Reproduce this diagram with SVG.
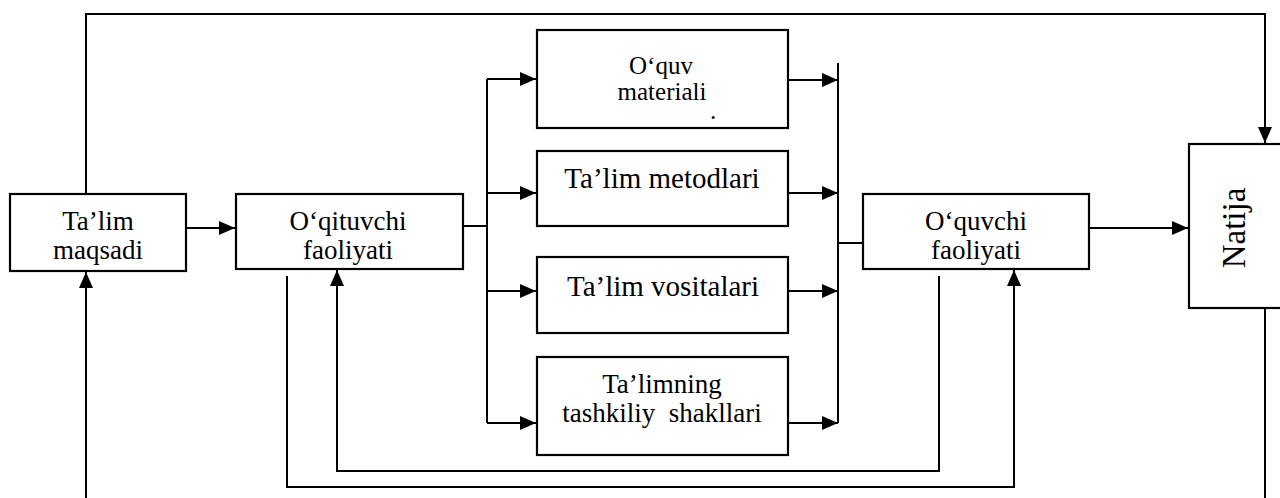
<svg xmlns="http://www.w3.org/2000/svg" width="1280" height="498" viewBox="0 0 1280 498">
<style>
.box{fill:#fff;stroke:#000;stroke-width:2.2}
.ln{fill:none;stroke:#000;stroke-width:2}
.t27{font-family:"Liberation Serif","Times New Roman",serif;font-size:27px;fill:#000;text-anchor:middle}
.t25{font-family:"Liberation Serif","Times New Roman",serif;font-size:25px;fill:#000;text-anchor:middle}
.t29{font-family:"Liberation Serif","Times New Roman",serif;font-size:29px;fill:#000;text-anchor:middle}
.t33{font-family:"Liberation Serif","Times New Roman",serif;font-size:33px;fill:#000;text-anchor:middle}
</style>
<defs>
<marker id="ah" markerUnits="userSpaceOnUse" markerWidth="16" markerHeight="14" refX="16" refY="7" orient="auto">
<path d="M0,0 L16,7 L0,14 z" fill="#000"/>
</marker>
<clipPath id="c1"><rect x="10" y="194" width="176" height="77"/></clipPath>
<clipPath id="c2"><rect x="236" y="194" width="227" height="75"/></clipPath>
<clipPath id="c3"><rect x="863" y="194" width="226" height="75"/></clipPath>
</defs>
<rect width="1280" height="498" fill="#fff"/>

<g id="connectors">
<path class="ln" d="M86,194 V14 H1265 V143" marker-end="url(#ah)"/>
<path class="ln" d="M86,498 V272" marker-end="url(#ah)"/>
<path class="ln" d="M1265,308 V498"/>
<path class="ln" d="M186,228 H235" marker-end="url(#ah)"/>
<path class="ln" d="M463,226 H487"/>
<path class="ln" d="M487,79 V423"/>
<path class="ln" d="M487,79 H536" marker-end="url(#ah)"/>
<path class="ln" d="M487,193 H536" marker-end="url(#ah)"/>
<path class="ln" d="M487,291 H536" marker-end="url(#ah)"/>
<path class="ln" d="M487,423 H536" marker-end="url(#ah)"/>
<path class="ln" d="M838,63 V423"/>
<path class="ln" d="M788,80 H838" marker-end="url(#ah)"/>
<path class="ln" d="M788,193 H838" marker-end="url(#ah)"/>
<path class="ln" d="M788,291 H838" marker-end="url(#ah)"/>
<path class="ln" d="M788,423 H838" marker-end="url(#ah)"/>
<path class="ln" d="M838,243 H863"/>
<path class="ln" d="M1089,228 H1188" marker-end="url(#ah)"/>
<path class="ln" d="M287,276 V487 H1014 V270" marker-end="url(#ah)"/>
<path class="ln" d="M939,276 V471 H337 V270" marker-end="url(#ah)"/>
</g>

<g id="n-maqsad">
<rect class="box" x="10" y="194" width="176" height="77"/>
<g clip-path="url(#c1)">
<text class="t27" x="98" y="230">Ta’lim</text>
<text class="t27" x="98" y="259">maqsadi</text>
</g>
</g>

<g id="n-oqituvchi">
<rect class="box" x="236" y="194" width="227" height="75"/>
<g clip-path="url(#c2)">
<text class="t27" x="348" y="230">O‘qituvchi</text>
<text class="t27" x="348" y="259">faoliyati</text>
</g>
</g>

<g id="n-material">
<rect class="box" x="537" y="30" width="251" height="98"/>
<text class="t25" x="661" y="74">O‘quv</text>
<text class="t25" x="662" y="100">materiali</text>
<text class="t25" x="713" y="119">.</text>
</g>

<g id="n-metod">
<rect class="box" x="537" y="151" width="251" height="75"/>
<text class="t29" x="662" y="188">Ta’lim metodlari</text>
</g>

<g id="n-vosita">
<rect class="box" x="537" y="257" width="251" height="76"/>
<text class="t29" x="663" y="296">Ta’lim vositalari</text>
</g>

<g id="n-shakl">
<rect class="box" x="537" y="357" width="251" height="98"/>
<text class="t27" x="662" y="393">Ta’limning</text>
<text class="t27" x="662" y="422" xml:space="preserve">tashkiliy  shakllari</text>
</g>

<g id="n-oquvchi">
<rect class="box" x="863" y="194" width="226" height="75"/>
<g clip-path="url(#c3)">
<text class="t27" x="976" y="230">O‘quvchi</text>
<text class="t27" x="976" y="259">faoliyati</text>
</g>
</g>

<g id="n-natija">
<rect class="box" x="1189" y="144" width="110" height="164"/>
<text class="t33" transform="translate(1245,228) rotate(-90)" x="0" y="0">Natija</text>
</g>
</svg>
